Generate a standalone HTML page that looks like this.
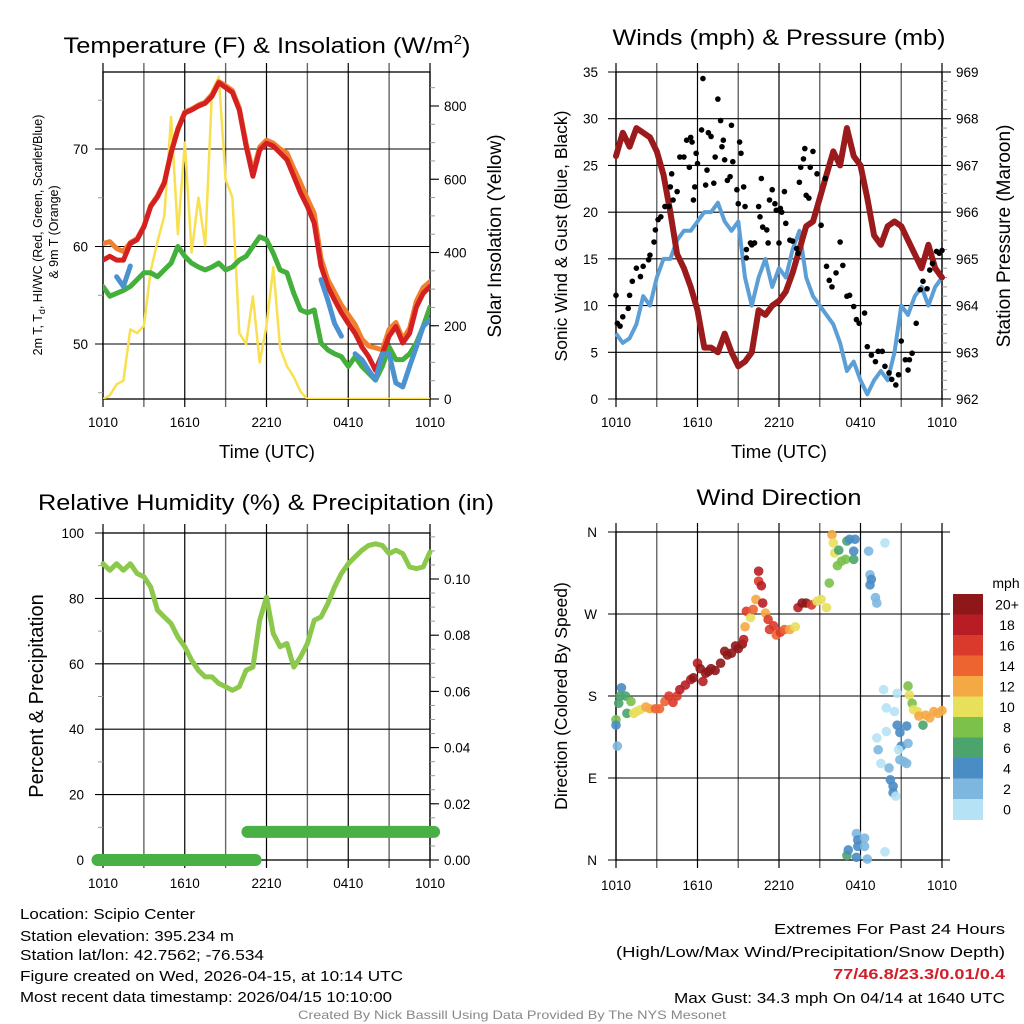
<!DOCTYPE html>
<html><head><meta charset="utf-8">
<style>
html,body{margin:0;padding:0;background:#fff;}
svg{display:block;font-family:"Liberation Sans",Arial,sans-serif;}
</style></head>
<body>
<svg id="chart" width="1024" height="1024" viewBox="0 0 1024 1024" xmlns="http://www.w3.org/2000/svg">
<rect x="0" y="0" width="1024" height="1024" fill="#fff"/>
</svg>
<script>
// ---------- DATA ----------
const hours = [0,0.5,1,1.5,2,2.5,3,3.5,4,4.5,5,5.5,6,6.5,7,7.5,8,8.5,9,9.5,10,10.5,11,11.5,12,12.5,13,13.5,14,14.5,15,15.5,16,16.5,17,17.5,18,18.5,19,19.5,20,20.5,21,21.5,22,22.5,23,23.5,24];
const timeTickLabels = ["1010","1610","2210","0410","1010"];
const tempRed = [58.6,59,58.6,58.6,60.3,60.7,62,64.1,65.1,66.5,69.6,72,73.7,74,74.4,74.7,75.4,76.8,76.3,75.8,74,70.3,67.2,69.9,70.6,70.3,69.6,68.9,67.2,65.5,64.1,62.4,58,55.9,54.5,53.2,52.1,51.1,49.7,48.7,47.3,49,50.8,51.8,50.1,51.1,53.8,55.2,55.9];
const tempOrange = [60.3,60.5,59.8,59.5,60.4,60.8,62.1,64.2,65.2,66.6,69.7,72.1,73.8,74.1,74.5,74.8,75.6,76.9,76.5,76,74.2,70.6,67.6,70.2,70.9,70.6,70,69.6,68,66.5,64.9,63.4,58.8,56.6,55.3,54,53,52,50.5,49.8,49.6,49.4,51.5,52.2,50.5,51.6,54.4,55.8,56.4];
const tempGreen = [55.9,54.9,55.2,55.5,55.9,56.6,57.3,57.3,56.9,57.6,58.3,60,59,58.3,57.9,57.6,57.9,58.3,57.6,57.9,58.6,59,60,61,60.7,59.3,57.6,57.3,55.2,53.5,53.2,53.5,50.1,49.4,49,48.7,47.7,48.7,47.7,47,46.3,47.7,49.7,48.4,48.4,49,50.1,51.8,53.8];
const tempBlue = [null,null,56.9,55.9,58,null,null,null,null,null,null,null,null,null,null,null,null,null,null,null,null,null,null,null,null,null,null,null,null,null,null,null,56.6,54.5,52.1,50.8,null,49,48.4,47.3,46.3,49,49,46,45.6,47.7,49.7,51.8,52.5];
const solar = [0,10,40,50,190,180,200,350,430,500,770,450,700,400,550,420,840,880,600,550,180,150,280,100,200,360,140,90,60,20,0,0,0,0,0,0,0,0,0,0,0,0,0,0,0,0,0,0,0];
const tempTicks = [50,60,70];
const solarTicks = [0,200,400,600,800];

const windSonic = [7,6,6.5,8,11,10,13,15,15,17,18,18,19,20,20,21,19,18,19,13,10,13,15,12,14,13,16,18,13,11,10,9,8,6,3,4,2,0.5,2,3,2,5,10,9,11,12,10,12,13];
const pressure = [967.2,967.7,967.4,967.8,967.7,967.6,967.3,966.8,966,965.1,964.8,964.4,963.9,963.1,963.1,963,963.4,963,962.7,962.8,963,963.9,963.8,964,964.1,964.3,964.7,965.2,965.7,965.8,966.3,966.8,967.3,967,967.8,967.2,967,966.3,965.5,965.3,965.7,965.8,965.7,965.4,965.1,964.8,965.3,964.8,964.6];
const gustHours = [0,0.1,0.3,0.5,0.9,1,1.2,1.5,1.8,2,2.4,2.5,2.8,2.9,3.1,3.3,3.6,3.9,4,4.1,4.2,4.5,4.7,5,5.2,5.4,5.5,5.6,5.7,5.8,5.9,6,6.3,6.4,6.6,6.7,6.8,7,7.2,7.3,7.5,7.7,7.8,7.9,8,8.2,8.4,8.5,8.6,8.9,9,9.1,9.2,9.4,9.5,9.6,9.6,9.9,10,10.2,10.5,10.6,10.7,10.8,11.1,11.2,11.3,11.5,11.7,11.8,12,12.1,12.2,12.4,12.5,12.8,13,13.3,13.4,13.5,13.6,13.8,13.9,14,14.2,14.3,14.5,14.8,15.1,15.4,15.5,15.7,15.9,16.2,16.5,16.7,17,17.2,17.5,17.7,17.9,18.3,18.5,18.8,19.1,19.3,19.6,19.8,20.1,20.3,20.6,20.8,21,21.3,21.5,21.6,21.8,22.1,22.4,22.6,22.9,23.1,23.3,23.6,23.8,24];
const gustValues = [11.1,8.1,7.8,8.8,9.7,11.1,12.6,14,13.1,14.2,14.9,15.4,16.8,18.1,19.2,19.5,20.6,20.6,22.7,24.1,21.3,22.2,25.9,25.9,27.7,24.8,28,27.5,21.3,22.7,26.3,25.2,28.8,34.3,22.9,24.5,28.5,28.1,23.1,25.9,32.1,29.8,27,27.7,25.6,23.4,23.8,29.3,25.4,22.4,20.9,27.5,26.3,22.7,20.6,16,15.1,16.7,16.5,16.7,20.6,19.5,23.6,18.4,18.1,16.7,21.3,22.4,20.9,20.2,16.7,20.4,20,22.2,18.8,17,16.9,16.1,15.6,23.2,24.8,25.7,26.8,21.8,21.5,24.8,26.5,24.1,18.6,23.6,14.2,12.7,12,13.5,16.8,14.3,11,11.1,9.9,8.5,8.1,9.2,5.6,4.7,4,5.1,5.1,3.5,2.8,2.1,1.5,2.6,6.2,4.2,3.1,4.2,4.9,8.1,11.7,12.6,11.8,13.8,14.5,15.8,15.6,15.9,17,16.5,16.7];
const windTicks = [0,5,10,15,20,25,30,35];
const pressTicks = [962,963,964,965,966,967,968,969];

const rh = [90.6,88.6,90.6,88.6,90.6,87.6,86.6,83.5,76.4,74.3,72.3,68.2,65.2,61.1,58,56,56,54,53,51.9,53,58,59,73.3,80.4,69.2,65.2,66.2,59,62.1,66.2,73.3,74.3,78.4,83.5,87.6,90.6,92.7,94.7,96.2,96.7,96.2,93.7,94.7,93.7,89.6,89.1,89.6,94.2];
const precipHours = [-0.4,11.2,10.6,24.3];
const precipValues = [0,0,0.01,0.01];
const rhTicks = [0,20,40,60,80,100];
const precipTicks = [0,0.02,0.04,0.06,0.08,0.1];

const dirHours = [0,0,0.1,0.4,0.3,0.2,0.7,1.1,0.8,1.3,1.5,1.8,2.2,2.5,2.9,3.2,3.6,3.9,4.2,4.5,4.7,5.1,5.5,5.7,6,6.2,6.4,6.6,6.8,7,7.3,7.7,8,8.2,8.5,8.8,9,9.3,9.4,9.6,9.5,9.9,10.1,10.3,10.5,10.7,10.5,10.8,11,11.2,11.3,11.6,11.8,12.1,12.4,12.8,13.2,13.4,13.7,14,14.4,14.8,15.1,15.5,15.7,15.9,16,16.1,16.4,16.3,16.6,16.9,17,17.2,17.5,17.6,17.5,18.6,18.7,18.8,18.7,19.1,19.2,19.8,17,17.1,17.7,17.8,17.8,17.7,18.3,18.3,18.5,19.8,19.7,19.9,19.9,19.2,19.3,19.5,20.1,20.2,20.4,20.4,20.6,20.5,20.7,20.7,20.9,21,20.8,20.9,21.2,21.4,21.5,21.4,21.5,21.6,21.8,21.9,22.2,22.3,22.6,22.8,23.1,23.4,23.7,24];
const dirValues = [154,148,125,189,180,172,180,174,161,161,163,165,168,166,166,166,174,180,173,180,187,192,198,200,216,210,196,205,207,210,208,216,229,225,227,235,232,237,242,273,256,266,275,286,306,301,317,282,271,264,253,257,247,250,253,253,256,277,282,282,280,284,286,277,304,357,348,337,340,323,328,330,350,352,339,352,330,339,313,308,302,288,282,348,5,11,29,22,15,3,24,15,1,9,187,167,141,134,121,106,101,88,81,74,70,163,183,148,140,125,121,110,108,106,128,147,191,181,172,165,163,158,148,159,156,163,161,164];
const dirSpeeds = [8,4,2,4,6,6,6,8,6,10,10,10,12,12,14,14,14,16,16,16,18,18,18,20,18,20,18,20,20,20,20,20,20,20,20,20,20,20,18,16,12,10,14,12,16,18,18,18,12,16,16,16,14,16,14,12,10,18,20,20,16,10,10,10,8,12,10,10,6,8,8,8,6,4,4,4,6,2,2,4,4,2,2,0,6,4,2,4,4,4,2,2,2,0,0,0,0,0,2,0,2,4,4,4,0,0,0,4,4,4,0,2,2,2,2,4,8,10,8,10,10,12,6,12,12,12,12,12];
const dirTickLabels = ["N","E","S","W","N"];
const dirTicks = [0,90,180,270,360];
const speedBins = [0,2,4,6,8,10,12,14,16,18,20];
const speedLabels = ["0","2","4","6","8","10","12","14","16","18","20+"];
const speedColors = ["#b5e2f5","#7db7e0","#4a8cc4","#4aa46c","#7bc14a","#e8df5a","#f5a945","#ee6431","#da3a2b","#b81d25","#8e1719"];

// ---------- HELPERS ----------
const svg = document.getElementById('chart');
const NS = 'http://www.w3.org/2000/svg';
function mk(tag, attrs, parent){
  const e = document.createElementNS(NS, tag);
  for (const k in attrs) e.setAttribute(k, attrs[k]);
  (parent||svg).appendChild(e);
  return e;
}
function txt(s, x, y, size, anchor, parent, extra){
  const t = mk('text', Object.assign({x:x, y:y, 'font-size':size, 'text-anchor':anchor||'middle', fill:'#000'}, extra||{}), parent);
  t.textContent = s;
  return t;
}
function lin(d0,d1,p0,p1){ return v => p0 + (v-d0)/(d1-d0)*(p1-p0); }
function pathFrom(xs, ys, xf, yf){
  let d = '', pen = false;
  for (let i=0;i<xs.length;i++){
    if (ys[i]===null || ys[i]===undefined){ pen=false; continue; }
    d += (pen?'L':'M') + xf(xs[i]).toFixed(1) + ',' + yf(ys[i]).toFixed(1);
    pen = true;
  }
  return d;
}
function frame(L,T,R,B,g){
  const xs = lin(0,24,L,R);
  for (let h=0; h<=24; h+=3){
    const l = mk('line',{x1:xs(h),x2:xs(h),y1:T-9,y2:B+8,stroke:'#000','stroke-width':(h%6===0)?1.2:1.4,'stroke-opacity':(h%6===0)?1:0.6},g);
    
    
  }
  const r = mk('rect',{x:L,y:T,width:R-L,height:B-T,fill:'none',stroke:'#000','stroke-width':1.3},g);
  
  
  return xs;
}
function xLabels(xs, y, g){
  [0,6,12,18,24].forEach((h,i)=>{
    const t = txt(timeTickLabels[i], xs(h), y, 13.5, 'middle', g);
    
    
  });
}
function hgrid(vals, yf, L, R, g, labelX, fmt, size){
  vals.forEach(v=>{
    const l = mk('line',{x1:L-8,x2:R,y1:yf(v),y2:yf(v),stroke:'#000','stroke-width':1.1},g);
    
    
    const t = txt(fmt?fmt(v):String(v), labelX, yf(v)+5, size||13.5, 'end', g);
    
    
  });
}
function rightAxis(vals, yf, R, g, fmt, minorStep, minorFrom, minorTo){
  for (let v=minorFrom; v<=minorTo+1e-9; v+=minorStep){
    const l = mk('line',{x1:R,x2:R+5,y1:yf(v),y2:yf(v),stroke:'#999','stroke-width':1},g);
    
    
  }
  vals.forEach(v=>{
    const l = mk('line',{x1:R,x2:R+9,y1:yf(v),y2:yf(v),stroke:'#000','stroke-width':1.1},g);
    
    
    const t = txt(fmt(v), R+14, yf(v)+5, 13.5, 'start', g);
    
    
  });
}
function rotLabel(s, x, y, size, g, name){
  const t = txt(s, x, y, size, 'middle', g, {transform:'rotate(-90 '+x+' '+y+')'});
  
  
  return t;
}
function title(s, x, y, w, g, name){
  const t = txt(s, x, y, 22, 'middle', g, {textLength:w, lengthAdjust:'spacingAndGlyphs'});
  
  
  return t;
}

// ---------- PANEL 1: Temperature ----------
(function(){
  const g = mk('g',{});
  
  
  const L=103,R=430,T=72,B=399;
  const t = mk('text',{x:267,y:53,'font-size':22,'text-anchor':'middle',textLength:407,lengthAdjust:'spacingAndGlyphs'},g);
  t.innerHTML = 'Temperature (F) &amp; Insolation (W/m<tspan font-size="13" dy="-9">2</tspan><tspan dy="9">)</tspan>';
  
  
  const xs = frame(L,T,R,B,g);
  const yT = lin(50,70,344,149);
  const yS = lin(0,800,399,106);
  hgrid(tempTicks, yT, L, R, g, 88);
  [45,55,65,75].forEach(v=>{
    const l = mk('line',{x1:L-5,x2:L,y1:yT(v),y2:yT(v),stroke:'#999','stroke-width':1},g);
    
    
  });
  rightAxis(solarTicks, yS, R, g, v=>String(v), 50, 0, 850);
  xLabels(xs, 427, g);
  const xt = txt('Time (UTC)', 267, 458, 18.5, 'middle', g);
  
  
  const lt = mk('text',{x:0,y:0,'font-size':12.5,'text-anchor':'middle',transform:'translate(42 235) rotate(-90)'},g);
  lt.innerHTML = '2m T, T<tspan font-size="9" dy="3">d</tspan><tspan dy="-3">, HI/WC (Red, Green, Scarlet/Blue)</tspan>';
  
  
  const lt2 = txt('& 9m T (Orange)', 0, 0, 12.5, 'middle', g, {transform:'translate(58 232) rotate(-90)'});
  
  
  rotLabel('Solar Insolation (Yellow)', 501, 236, 19, g, 'right-y-axis-title');
  const clip = mk('clipPath',{id:'c1'},g); mk('rect',{x:L,y:T,width:R-L,height:B-T},clip);
  const series = [
    [solar, '#f8e050', 2.5, 'solar-insolation-line', yS],
    [tempGreen, '#44b03c', 5, 'dewpoint-line', yT],
    [tempOrange, '#f08030', 5, 'temp-9m-line', yT],
    [tempRed, '#d42020', 5, 'temp-2m-line', yT],
    [tempBlue, '#4b92d0', 5, 'windchill-line', yT]
  ];
  series.forEach(s=>{
    const p = mk('path',{d:pathFrom(hours,s[0],xs,s[4]),fill:'none',stroke:s[1],'stroke-width':s[2],'stroke-linejoin':'round','stroke-linecap':'round','clip-path':'url(#c1)'},g);
    
    
  });
})();

// ---------- PANEL 2: Winds ----------
(function(){
  const g = mk('g',{});
  
  
  const L=616,R=942,T=72,B=399;
  title('Winds (mph) & Pressure (mb)', 779, 45, 333, g, 'winds-title');
  const xs = frame(L,T,R,B,g);
  const yW = lin(0,35,B,T);
  const yP = lin(962,969,B,T);
  hgrid(windTicks, yW, L, R, g, 598);
  rightAxis(pressTicks, yP, R, g, v=>String(v), 0.2, 962, 969);
  xLabels(xs, 427, g);
  const xt = txt('Time (UTC)', 779, 458, 18.5, 'middle', g);
  
  
  rotLabel('Sonic Wind & Gust (Blue, Black)', 567, 236, 17.5, g, 'left-y-axis-title');
  rotLabel('Station Pressure (Maroon)', 1010, 236, 19, g, 'right-y-axis-title');
  const p1 = mk('path',{d:pathFrom(hours,windSonic,xs,yW),fill:'none',stroke:'#5b9fd6','stroke-width':4,'stroke-linejoin':'round'},g);
  
  
  const p2 = mk('path',{d:pathFrom(hours,pressure,xs,yP),fill:'none',stroke:'#9b1a1c','stroke-width':6,'stroke-linejoin':'round','stroke-linecap':'round'},g);
  
  
  for (let i=0;i<gustHours.length;i++){
    const c = mk('circle',{cx:xs(gustHours[i]),cy:yW(gustValues[i]),r:2.8,fill:'#000'},g);
    
    
  }
})();

// ---------- PANEL 3: RH ----------
(function(){
  const g = mk('g',{});
  
  
  const L=103,R=430,T=533,B=860;
  title('Relative Humidity (%) & Precipitation (in)', 266, 510, 456, g, 'humidity-title');
  const xs = frame(L,T,R,B,g);
  const yR = lin(0,100,B,T);
  const yPr = lin(0,0.1,B,579);
  hgrid(rhTicks, yR, L, R, g, 84);
  [10,30,50,70,90].forEach(v=>{
    const l = mk('line',{x1:L-5,x2:L,y1:yR(v),y2:yR(v),stroke:'#999','stroke-width':1},g);
    
    
  });
  rightAxis(precipTicks, yPr, R, g, v=>v.toFixed(2), 0.005, 0, 0.115);
  xLabels(xs, 888, g);
  rotLabel('Percent & Precipitation', 43, 696, 20, g, 'left-y-axis-title');
  const segs = [[0,1],[2,3]];
  segs.forEach(s=>{
    const l = mk('line',{x1:xs(precipHours[s[0]]),x2:xs(precipHours[s[1]]),y1:yPr(precipValues[s[0]]),y2:yPr(precipValues[s[1]]),stroke:'#48b045','stroke-width':12,'stroke-linecap':'round'},g);
    
    
  });
  const p = mk('path',{d:pathFrom(hours,rh,xs,yR),fill:'none',stroke:'#8cc84b','stroke-width':5,'stroke-linejoin':'round','stroke-linecap':'round'},g);
  
  
})();

// ---------- PANEL 4: Wind Direction ----------
(function(){
  const g = mk('g',{});
  
  
  const L=616,R=942,T=532,B=860;
  title('Wind Direction', 779, 505, 165, g, 'wind-direction-title');
  const xs = frame(L,T,R,B,g);
  const yD = lin(0,360,B,T);
  dirTicks.forEach((v,i)=>{
    const l = mk('line',{x1:L-8,x2:R+8,y1:yD(v),y2:yD(v),stroke:'#000','stroke-width':1.1},g);
    
    
    const t = txt(dirTickLabels[i], 597, yD(v)+5, 13.5, 'end', g);
    
    
  });
  xLabels(xs, 890, g);
  rotLabel('Direction (Colored By Speed)', 567, 696, 17.5, g, 'left-y-axis-title');
  function colorFor(s){ let k=0; for (let i=0;i<speedBins.length;i++) if (s>=speedBins[i]) k=i; return speedColors[k]; }
  for (let i=0;i<dirHours.length;i++){
    const c = mk('circle',{cx:xs(dirHours[i]),cy:yD(dirValues[i]),r:4.8,fill:colorFor(dirSpeeds[i]),'fill-opacity':0.9},g);
    
    
  }
  const cbT=594, cbH=20.5;
  const m = txt('mph', 1006, 588, 14, 'middle', g);
  
  
  for (let i=0;i<speedColors.length;i++){
    const idx = speedColors.length-1-i;
    const r = mk('rect',{x:953,y:cbT+i*cbH,width:30,height:cbH+0.5,fill:speedColors[idx]},g);
    
    
    const t = txt(speedLabels[idx], 1007, cbT+i*cbH+cbH/2+5, 14, 'middle', g);
    
    
  }
})();

// ---------- FOOTER ----------
(function(){
  const g = mk('g',{});
  
  
  const left = [['Location: Scipio Center',919,175],['Station elevation: 395.234 m',941,214],['Station lat/lon: 42.7562; -76.534',960,244],['Figure created on Wed, 2026-04-15, at 10:14 UTC',981,383],['Most recent data timestamp: 2026/04/15 10:10:00',1002,372]];
  left.forEach(l=>{
    const t = txt(l[0], 20, l[1], 15, 'start', g, {textLength:l[2], lengthAdjust:'spacingAndGlyphs'});
    
    
  });
  const right = [['Extremes For Past 24 Hours',934,231,'#000','normal'],['(High/Low/Max Wind/Precipitation/Snow Depth)',957,389,'#000','normal'],['77/46.8/23.3/0.01/0.4',979,172,'#d0202a','bold'],['Max Gust: 34.3 mph On 04/14 at 1640 UTC',1003,331,'#000','normal']];
  right.forEach(l=>{
    const t = txt(l[0], 1005, l[1], 15, 'end', g, {textLength:l[2], lengthAdjust:'spacingAndGlyphs', fill:l[3], 'font-weight':l[4]});
    
    
  });
  const c = txt('Created By Nick Bassill Using Data Provided By The NYS Mesonet', 512, 1019, 12, 'middle', g, {fill:'#888', textLength:428, lengthAdjust:'spacingAndGlyphs'});
  
  
})();
</script>
</body></html>
